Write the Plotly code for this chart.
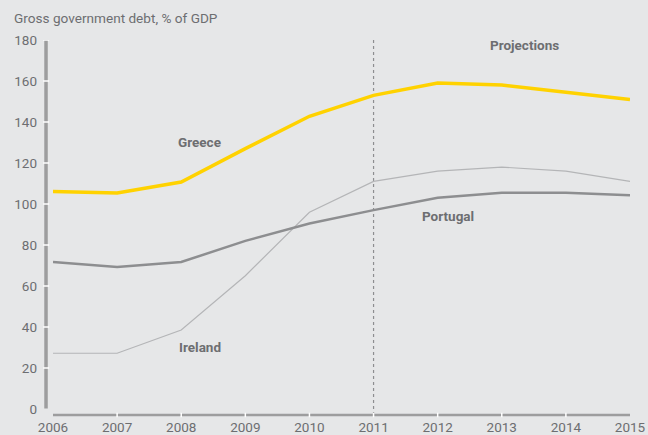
import plotly.graph_objects as go

years = [2006, 2007, 2008, 2009, 2010, 2011, 2012, 2013, 2014, 2015]
greece = [106.1, 105.4, 110.7, 127.0, 142.8, 153.0, 159.0, 158.0, 154.5, 151.0]
portugal = [71.7, 69.3, 71.7, 82.0, 90.5, 97.0, 103.0, 105.5, 105.5, 104.3]
ireland = [27.2, 27.2, 38.5, 65.0, 96.0, 111.0, 116.0, 118.0, 116.0, 111.0]
y_ticks = [0, 20, 40, 60, 80, 100, 120, 140, 160, 180]
projection_start = 2011

BG = "#e6e7e8"
AXIS = "#9d9d9e"
TEXT = "#6d6e71"
FONT = "Roboto"

fig = go.Figure()
fig.add_trace(go.Scatter(x=years, y=ireland, mode="lines",
                         line=dict(color="#b4b5b7", width=1.2), hoverinfo="skip"))
fig.add_trace(go.Scatter(x=years, y=portugal, mode="lines",
                         line=dict(color="#8d8e90", width=2.5), hoverinfo="skip"))
fig.add_trace(go.Scatter(x=years, y=greece, mode="lines",
                         line=dict(color="#ffd200", width=3.5), hoverinfo="skip"))

shapes = []
# vertical y axis line with white tick notches
shapes.append(dict(type="line", xref="paper", yref="y", x0=-0.0121, x1=-0.0121,
                   y0=0.3, y1=180, line=dict(color=AXIS, width=3.5), layer="above"))
for v in y_ticks[1:]:
    shapes.append(dict(type="line", xref="paper", yref="y", x0=-0.017, x1=-0.0067,
                       y0=v, y1=v, line=dict(color="white", width=1.5), layer="above"))
# horizontal x axis line with white tick notches
shapes.append(dict(type="line", xref="x", yref="paper", x0=years[0], x1=years[-1],
                   y0=0, y1=0, line=dict(color=AXIS, width=2.5), layer="above"))
for yr in years[1:-1]:
    shapes.append(dict(type="line", xref="x", yref="paper", x0=yr, x1=yr,
                       y0=-0.006, y1=0.006, line=dict(color="white", width=1.5), layer="above"))
# start of projections
shapes.append(dict(type="line", xref="x", yref="paper", x0=projection_start, x1=projection_start,
                   y0=0, y1=1, line=dict(color="#8d8e90", width=1.2, dash="3px,3px"), layer="below"))

label_font = dict(family=FONT, size=13.5, color=TEXT, weight="bold")
annotations = [
    dict(x=2008.29, y=130.2, text="Greece", showarrow=False, font=label_font),
    dict(x=2012.16, y=94.1, text="Portugal", showarrow=False, font=label_font),
    dict(x=2008.29, y=30.2, text="Ireland", showarrow=False, font=label_font),
    dict(x=2013.36, y=177.6, text="Projections", showarrow=False, font=label_font),
    dict(xref="paper", yref="paper", x=-0.071, y=1.058, xanchor="left", yanchor="middle",
         text="Gross government debt, % of GDP", showarrow=False,
         font=dict(family=FONT, size=13.6, color=TEXT)),
]

fig.update_layout(
    width=648, height=435,
    margin=dict(l=53, r=18, t=40, b=20, autoexpand=False),
    paper_bgcolor=BG, plot_bgcolor=BG,
    showlegend=False,
    shapes=shapes,
    annotations=annotations,
    xaxis=dict(range=[years[0], years[-1]], tickvals=years, showgrid=False, zeroline=False,
               showline=False, ticks="", ticklabelstandoff=2, automargin=False,
               tickfont=dict(family=FONT, size=13.5, color=TEXT)),
    yaxis=dict(range=[-2.93, 180], tickvals=y_ticks, showgrid=False, zeroline=False,
               showline=False, ticks="", ticklabelstandoff=15, automargin=False,
               tickfont=dict(family=FONT, size=13.5, color=TEXT)),
)

fig.write_html("out.html")
